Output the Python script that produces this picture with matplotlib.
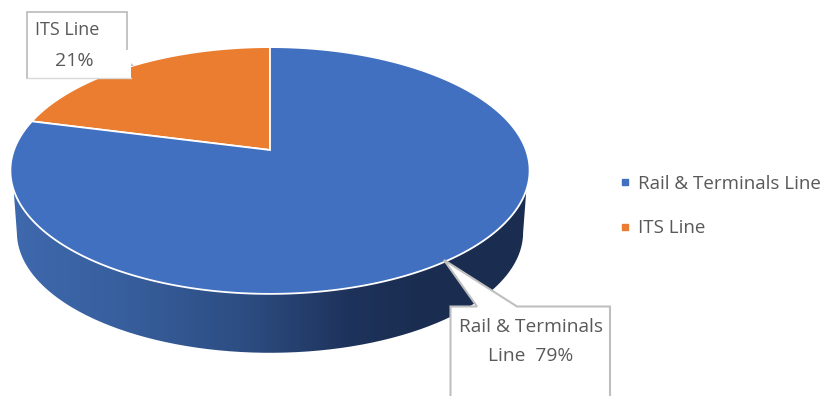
import numpy as np
import matplotlib
matplotlib.use("Agg")
import matplotlib.pyplot as plt
from matplotlib.colors import LinearSegmentedColormap
from matplotlib.lines import Line2D
from matplotlib.patches import Polygon, Rectangle, PathPatch
from matplotlib.path import Path

plt.rcParams['font.family'] = ['Open Sans', 'DejaVu Sans']

categories = ['Rail & Terminals Line', 'ITS Line']
shares = [79, 21]
colors = ['#4270C0', '#EB7D30']
text_color = '#595959'
edge_gray = '#BFBFBF'

# tilted pie: unit circle pushed through a perspective projection
cx, cy = 270, 150
scale_x, scale_y = 256, 120
tilt = 0.166
# base of the cylinder sits lower and reads slightly smaller than the top
base_drop = 62
base_shrink = 0.975


def project(theta):
    u = np.sin(theta)
    v = np.cos(theta)
    w = 1 + tilt * v
    return cx + scale_x * u / w, cy - scale_y * v / w


fig = plt.figure(figsize=(8.25, 3.96), dpi=100)
ax = fig.add_axes([0, 0, 1, 1])

# side wall, shaded left to right, clipped between top rim and base rim
rim_start = np.arccos(-0.316)
front = np.linspace(rim_start, 2 * np.pi - rim_start, 300)
rx, ry = project(front)
base_start = np.arccos(-tilt)
back = np.linspace(2 * np.pi - base_start, base_start, 300)
bx, by = project(back)
ey = project(base_start)[1]
bx = cx + (bx - cx) * base_shrink
by = ey + base_drop + (by - ey) * base_shrink
wall = np.column_stack([np.r_[rx, bx], np.r_[ry, by]])
wall_patch = PathPatch(Path(wall, closed=False), fc='none', ec='none')
ax.add_patch(wall_patch)
wall_cmap = LinearSegmentedColormap.from_list(
    'wall', [(0, '#3F69AE'), (0.2, '#38609F'), (0.45, '#2D4D82'), (0.65, '#1E335C'), (0.8, '#1A2D50'), (1, '#1A2D50')])
shade = ax.imshow(np.linspace(0, 1, 256).reshape(1, -1), cmap=wall_cmap, aspect='auto',
                  extent=[10, 530, 396, 0], zorder=1)
shade.set_clip_path(wall_patch)

# top face, slices run counter-clockwise from twelve o'clock
start = 0
for name, share, color in zip(categories[::-1], shares[::-1], colors[::-1]):
    stop = start - 2 * np.pi * share / sum(shares)
    t = np.linspace(start, stop, 300)
    x, y = project(t)
    ax.fill(np.r_[cx, x], np.r_[cy, y], facecolor=color, edgecolor='white',
            linewidth=1.3, joinstyle='miter', zorder=2)
    start = stop

# callout for the ITS slice
ax.add_patch(Polygon([(120, 52), (131, 66), (134, 66)], fc=edge_gray, ec='none', zorder=3))
ax.add_patch(Rectangle((26.5, 12), 100, 66, fc='white', ec=edge_gray, lw=1.3, zorder=3))
ax.add_patch(Rectangle((27.5, 50), 103.5, 27.5, fc='white', ec='none', zorder=4))
ax.plot([26.5, 131], [78, 78], color='#D9D9D9', lw=1, zorder=4)
ax.text(35, 30, 'ITS Line', color=text_color, fontsize=13, va='center', zorder=5)
ax.text(74, 61, f'{shares[1]}%', color=text_color, fontsize=14, ha='center', va='center', zorder=5)

# callout for the rail slice, runs off the bottom edge
ax.add_patch(Polygon([(450.5, 400), (450.5, 306.5), (477, 306.5), (444, 260), (517, 306.5),
                      (610, 306.5), (610, 400)], fc='white', ec=edge_gray, lw=1.5, zorder=3))
ax.text(531, 327, 'Rail & Terminals', color=text_color, fontsize=13.8, ha='center', va='center', zorder=5)
ax.text(531, 356, f'Line  {shares[0]}%', color=text_color, fontsize=13.8, ha='center', va='center', zorder=5)

handles = [Line2D([], [], linestyle='none', marker='s', markersize=4.5, color=c) for c in colors]
ax.legend(handles, categories, loc='center left', bbox_to_anchor=(616, 206),
          bbox_transform=ax.transData, frameon=False, fontsize=13.5, labelcolor=text_color,
          labelspacing=1.4, handlelength=0.95, handletextpad=0.2, borderpad=0, borderaxespad=0)

ax.set_xlim(0, 825)
ax.set_ylim(396, 0)
ax.axis('off')

plt.savefig('out.png', dpi=100)
